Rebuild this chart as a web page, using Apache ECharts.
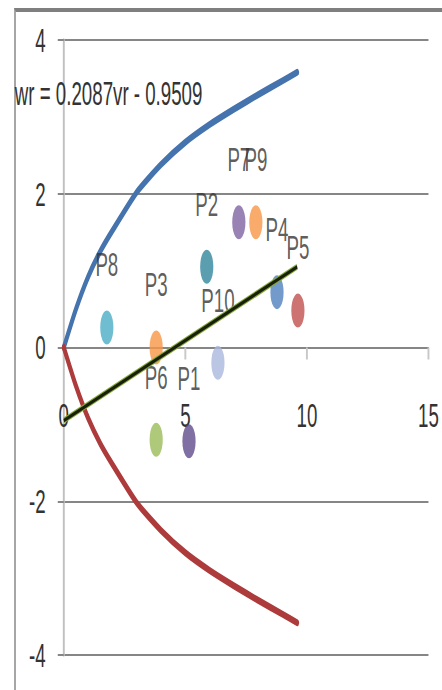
<!DOCTYPE html>
<html><head><meta charset="utf-8">
<script src="https://cdn.jsdelivr.net/npm/echarts@6/dist/echarts.min.js"></script>
<style>
html,body{margin:0;padding:0;background:#fff;width:442px;height:690px;overflow:hidden;}
#frame{position:absolute;left:14px;top:8px;width:440px;height:690px;border-top:4px solid #7f7f7f;border-left:2px solid #a6a6a6;box-sizing:border-box;}
#chart{position:absolute;left:0;top:0;width:804px;height:690px;transform:scaleX(0.55);transform-origin:0 0;}
</style></head><body>
<div id="frame"></div>
<div id="chart"></div>
<script>
// ---- data ----
const xTickLabels = ['0', '5', '10', '15'];
const yTickLabels = ['-4', '-2', '0', '2', '4'];
const upperX = [0, 0.5, 1, 1.5, 2, 3, 4, 5, 6, 7, 8, 9, 9.6];
const upperY = [0, 0.5, 0.92, 1.25, 1.52, 2.02, 2.38, 2.67, 2.9, 3.1, 3.29, 3.47, 3.58];
const lowerX = [0, 0.5, 1, 1.5, 2, 3, 4, 5, 6, 7, 8, 9, 9.6];
const lowerY = [0, -0.5, -0.92, -1.25, -1.52, -2.02, -2.38, -2.67, -2.9, -3.1, -3.29, -3.47, -3.58];
const trendX = [0, 9.6];
const trendY = [-0.95, 1.05];
const pointNames = ['P1', 'P2', 'P3', 'P4', 'P5', 'P6', 'P7', 'P8', 'P9', 'P10'];
const pointX = [5.15, 5.88, 3.8, 8.77, 9.63, 3.8, 7.2, 1.77, 7.9, 6.34];
const pointY = [-1.22, 1.05, 0.0, 0.72, 0.48, -1.2, 1.63, 0.26, 1.63, -0.2];
const equationText = 'wr = 0.2087vr - 0.9509';

// ---- styles ----
const pointColors = ['#5f4b8b', '#31869b', '#f79646', '#4f81bd', '#c0504d', '#9bbb59', '#8064a2', '#4bacc6', '#f79646', '#a9b8dc'];
const FONT = 'Liberation Sans';
const TXT = '#333333';
const FS = 34;

const zip = (xs, ys) => xs.map((x, i) => [x, ys[i]]);

const chart = echarts.init(document.getElementById('chart'), null, {renderer: 'svg'});
chart.setOption({
  animation: false,
  backgroundColor: 'transparent',
  grid: {left: 116, right: 25, top: 40, bottom: 35, containLabel: false, outerBoundsMode: 'none'},
  xAxis: {
    type: 'value', min: 0, max: 15, interval: 5,
    axisLine: {show: true, onZero: true, lineStyle: {color: '#868686', width: 2}},
    axisTick: {show: true, length: 12, lineStyle: {color: '#c8c8c8', width: 3.5}},
    axisLabel: {margin: -257, fontFamily: FONT, fontSize: FS, color: TXT, showMinLabel: true, showMaxLabel: true,
      formatter: v => xTickLabels[Math.round(v / 5)]},
    splitLine: {show: false}
  },
  yAxis: {
    type: 'value', min: -4, max: 4, interval: 2,
    axisLine: {show: true, onZero: false, lineStyle: {color: '#c0c0c0', width: 3.5}},
    axisTick: {show: true, length: 11, lineStyle: {color: '#868686', width: 2}},
    axisLabel: {margin: 33, fontFamily: FONT, fontSize: FS, color: TXT,
      formatter: v => yTickLabels[Math.round((v + 4) / 2)]},
    splitLine: {show: true, lineStyle: {color: '#868686', width: 2}}
  },
  graphic: [{
    type: 'text', left: 27, top: 76, z: 100,
    style: {text: equationText, font: FS + 'px "Liberation Sans"', fill: TXT}
  }],
  series: [
    {type: 'line', data: zip(upperX, upperY), smooth: 0.2, showSymbol: false, symbol: 'none',
      lineStyle: {color: '#4473ad', width: 7, cap: 'round', join: 'round'}, z: 2},
    {type: 'line', data: zip(lowerX, lowerY), smooth: 0.2, showSymbol: false, symbol: 'none',
      lineStyle: {color: '#ad3b3b', width: 7, cap: 'round', join: 'round'}, z: 2},
    {type: 'scatter', symbol: 'circle', symbolSize: [24, 34], z: 3,
      data: pointNames.map((n, i) => ({name: n, value: [pointX[i], pointY[i]], itemStyle: {color: pointColors[i]}})),
      label: {show: true, position: 'top', distance: 29, formatter: '{b}', fontFamily: FONT, fontSize: FS, color: TXT}},
    {type: 'line', data: zip(trendX, trendY), showSymbol: false, symbol: 'none',
      lineStyle: {color: '#86a83a', width: 6}, z: 4},
    {type: 'line', data: zip(trendX, trendY), showSymbol: false, symbol: 'none',
      lineStyle: {color: '#18200c', width: 3.5}, z: 5}
  ]
});
</script>
</body></html>
